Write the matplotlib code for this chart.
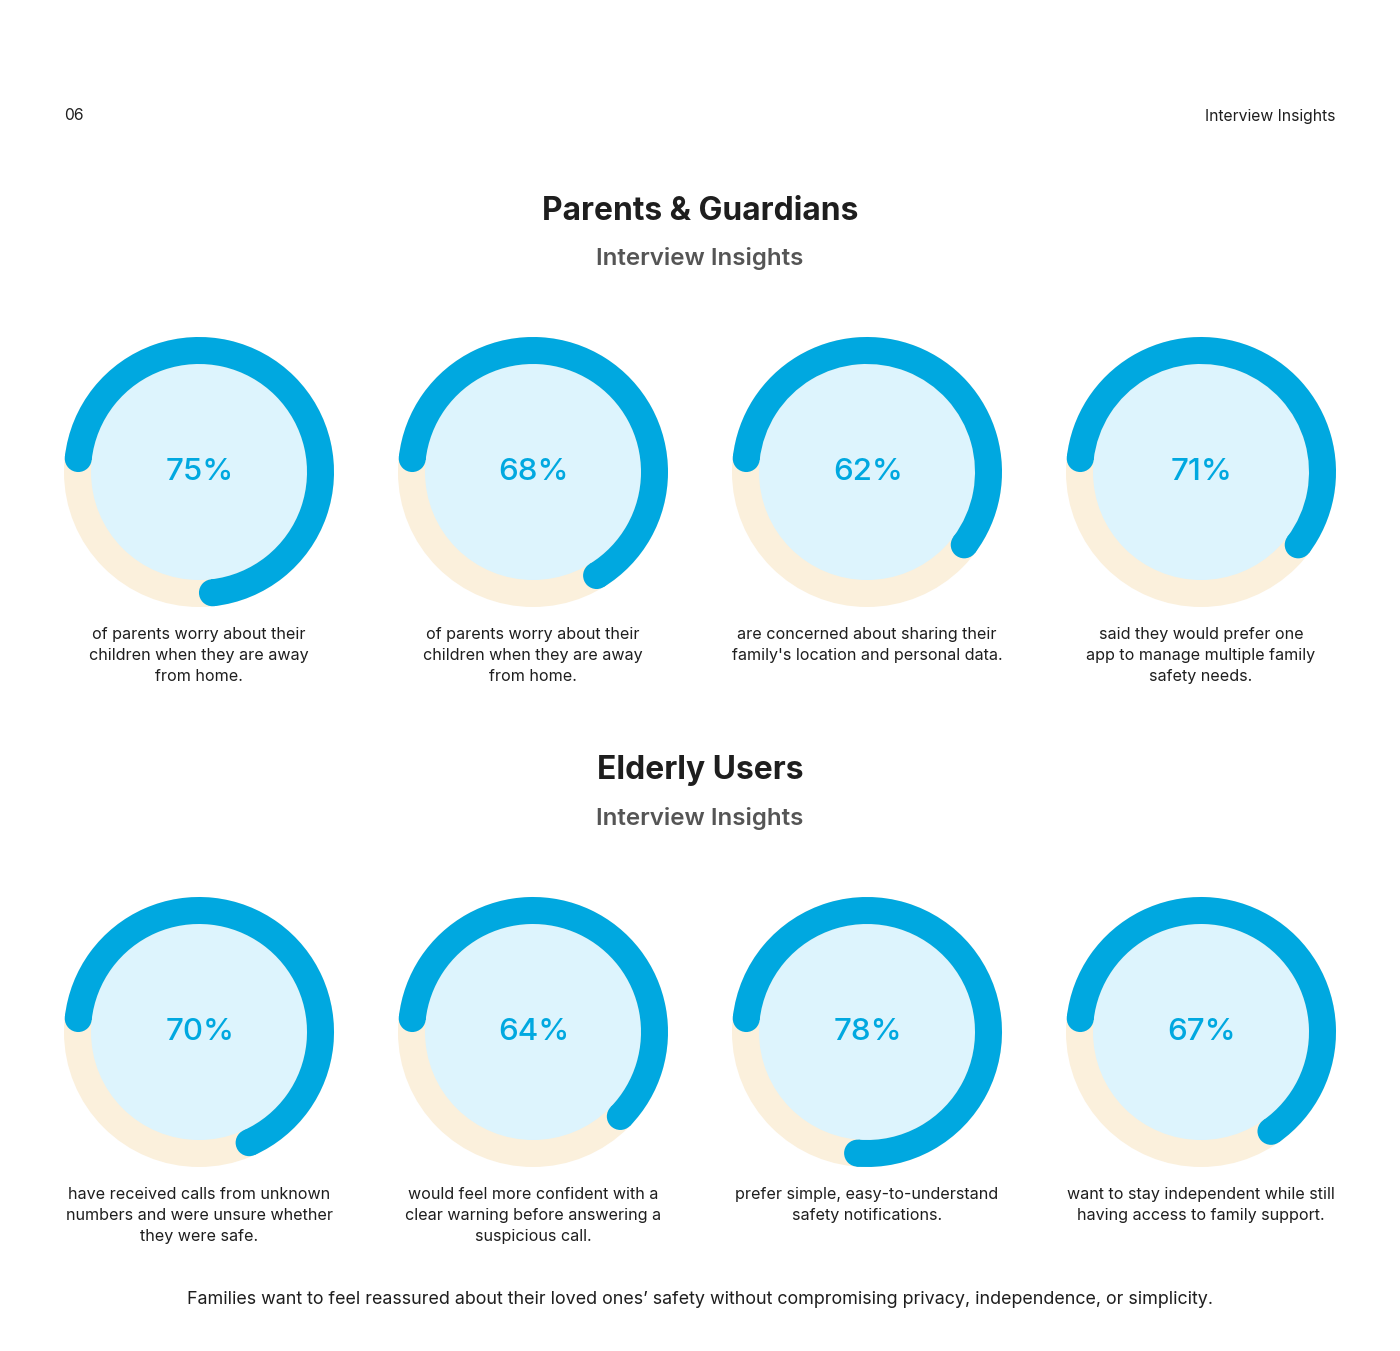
import numpy as np
import matplotlib
matplotlib.use("Agg")
import matplotlib.pyplot as plt
from matplotlib.patches import Wedge, Circle

# ---- data ----
section_titles = ["Parents & Guardians", "Elderly Users"]
section_subtitle = "Interview Insights"
parents_labels = ["75%", "68%", "62%", "71%"]
parents_arcs = [75, 68, 62, 62]          # drawn arc extent (%)
parents_texts = [
    "of parents worry about their\nchildren when they are away\nfrom home.",
    "of parents worry about their\nchildren when they are away\nfrom home.",
    "are concerned about sharing their\nfamily's location and personal data.",
    "said they would prefer one\napp to manage multiple family\nsafety needs.",
]
elderly_labels = ["70%", "64%", "78%", "67%"]
elderly_arcs = [70, 64, 78, 67]
elderly_texts = [
    "have received calls from unknown\nnumbers and were unsure whether\nthey were safe.",
    "would feel more confident with a\nclear warning before answering a\nsuspicious call.",
    "prefer simple, easy-to-understand\nsafety notifications.",
    "want to stay independent while still\nhaving access to family support.",
]
page_number = "06"
header_right = "Interview Insights"
footer = "Families want to feel reassured about their loved ones\u2019 safety without compromising privacy, independence, or simplicity."

# ---- style ----
BLUE = "#00A8E0"
LIGHT = "#DDF4FD"
CREAM = "#FBF0DC"
DARK = "#1E1E1E"
GREY = "#555555"
FONT = ["Inter", "DejaVu Sans"]

W, H = 1400, 1351
fig = plt.figure(figsize=(W / 100, H / 100), dpi=100)
ax = fig.add_axes([0, 0, 1, 1])
ax.set_xlim(0, W)
ax.set_ylim(H, 0)
ax.set_aspect("equal")
ax.axis("off")

R_OUT = 135
RING = 27
R_MID = R_OUT - RING / 2
cap_deg = np.degrees((RING / 2) / R_MID)

col_x = [199, 533, 867, 1201]

def gauge(cx, cy, label, arc_pct, text):
    ax.add_patch(Circle((cx, cy), R_OUT, color=CREAM, lw=0))
    ax.add_patch(Circle((cx, cy), R_OUT - RING, color=LIGHT, lw=0))
    t0 = cap_deg
    t1 = arc_pct / 100 * 360 - cap_deg
    ax.add_patch(Wedge((cx, cy), R_OUT, 180 + t0, 180 + t1, width=RING, color=BLUE, lw=0))
    for t in (t0, t1):
        a = np.radians(180 + t)
        ax.add_patch(Circle((cx + R_MID * np.cos(a), cy + R_MID * np.sin(a)), RING / 2, color=BLUE, lw=0))
    ax.text(cx + 1, cy, label, ha="center", va="center", fontsize=22.5, color=BLUE,
            family=FONT, fontweight="medium")
    ax.text(cx, cy + 155, text, ha="center", va="top", fontsize=11.6, color=DARK,
            family=FONT, linespacing=1.5)

# header
ax.text(64, 116, page_number, ha="left", va="center", fontsize=11.3, color=DARK, family=FONT)
ax.text(1335, 116, header_right, ha="right", va="center", fontsize=11.3, color=DARK, family=FONT)

# sections
for title, ty, labels, arcs, texts, cy in [
    (section_titles[0], 211, parents_labels, parents_arcs, parents_texts, 472),
    (section_titles[1], 771, elderly_labels, elderly_arcs, elderly_texts, 1032),
]:
    ax.text(700, ty, title, ha="center", va="center", fontsize=22.9, color=DARK,
            family=FONT, fontweight="bold")
    ax.text(700, ty + 48, section_subtitle, ha="center", va="center", fontsize=17.4,
            color=GREY, family=FONT, fontweight="semibold")
    for x, lab, arc, txt in zip(col_x, labels, arcs, texts):
        gauge(x, cy, lab, arc, txt)

ax.text(700, 1300, footer, ha="center", va="center", fontsize=12.9, color=DARK, family=FONT)

fig.savefig("out.png", dpi=100, facecolor="white")
